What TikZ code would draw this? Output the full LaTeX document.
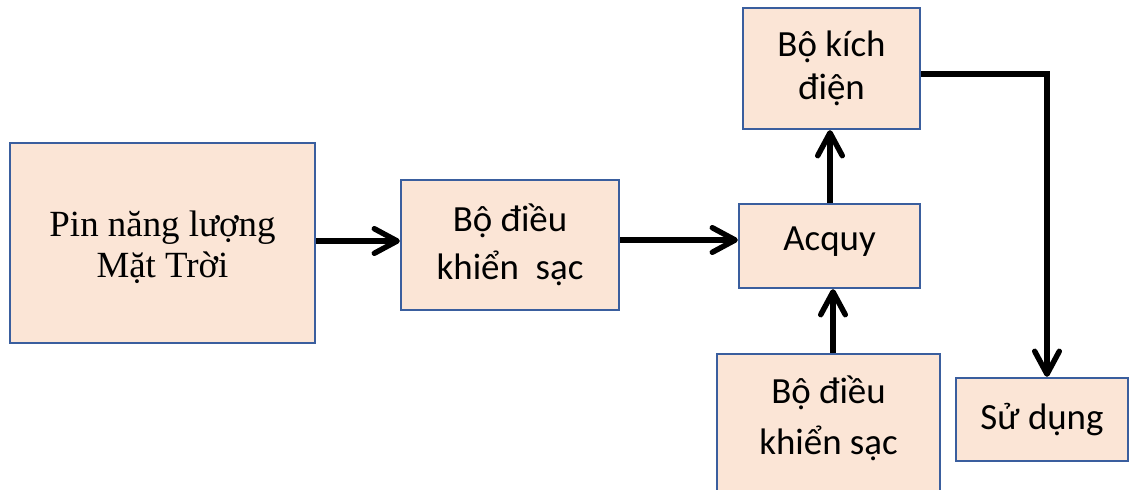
\documentclass[tikz,border=0pt]{standalone}
\usepackage{fontspec}
\setmainfont{Carlito}
\newfontfamily\pinfont{Liberation Serif}
\usetikzlibrary{arrows.meta}
\definecolor{boxfill}{HTML}{FBE5D6}
\definecolor{boxline}{HTML}{3A5E9E}
\begin{document}
\begin{tikzpicture}[x=0.02cm,y=-0.02cm,
  blk/.style={draw=boxline, fill=boxfill, line width=1.3pt, inner sep=0pt, align=center,
    font=\fontsize{21}{29}\selectfont},
  flow/.style={line width=3.1pt, -{Straight Barb[length=13pt,width=14pt,round]}},
  lbl/.style={inner sep=0pt, align=center, font=\fontsize{21}{29}\selectfont}]
\useasboundingbox (0,0) rectangle (1130,490);
\clip (0,0) rectangle (1130,490);
% blocks, sized from their corner coordinates
\node[blk, minimum width=305*0.02cm, minimum height=200*0.02cm,
  font=\pinfont\fontsize{21}{23.5}\selectfont] (pin) at (162.5,243) {};
\node[lbl, font=\pinfont\fontsize{21}{23.5}\selectfont] (pintxt) at (162.5,247) {Pin năng lượng\\Mặt Trời};
\node[blk, minimum width=218*0.02cm, minimum height=130*0.02cm,
  font=\fontsize{21}{27}\selectfont] (ctrl) at (510,245) {Bộ điều\\khiển\ \ sạc};
\node[blk, minimum width=181*0.02cm, minimum height=84*0.02cm] (bat) at (829.5,246) {};
\node[lbl] (battxt) at (829.5,242) {Acquy};
\node[blk, minimum width=177*0.02cm, minimum height=121*0.02cm,
  font=\fontsize{21}{24.5}\selectfont] (inv) at (831.5,68.5) {Bộ kích\\điện};
\node[blk, minimum width=223*0.02cm, minimum height=166*0.02cm] (ctrlB) at (828.5,437) {};
\node[lbl] (ctrlBtxt) at (828.5,418) {Bộ điều\\khiển sạc};
\node[blk, minimum width=172*0.02cm, minimum height=83*0.02cm] (use) at (1042,419.5) {Sử dụng};
% connectors
\draw[flow] (pin.east |- 0,241) -- (ctrl.west |- 0,241);
\draw[flow] (ctrl.east |- 0,240) -- (bat.west |- 0,240);
\draw[flow] (bat.north -| 830,0) -- (inv.south -| 830,0);
\draw[flow] (ctrlB.north -| 833,0) -- (bat.south -| 833,0);
\coordinate (bend) at (1047,74);
\draw[flow, line join=miter] (inv.east |- bend) -- (bend) -- (bend |- use.north);
\end{tikzpicture}
\end{document}
